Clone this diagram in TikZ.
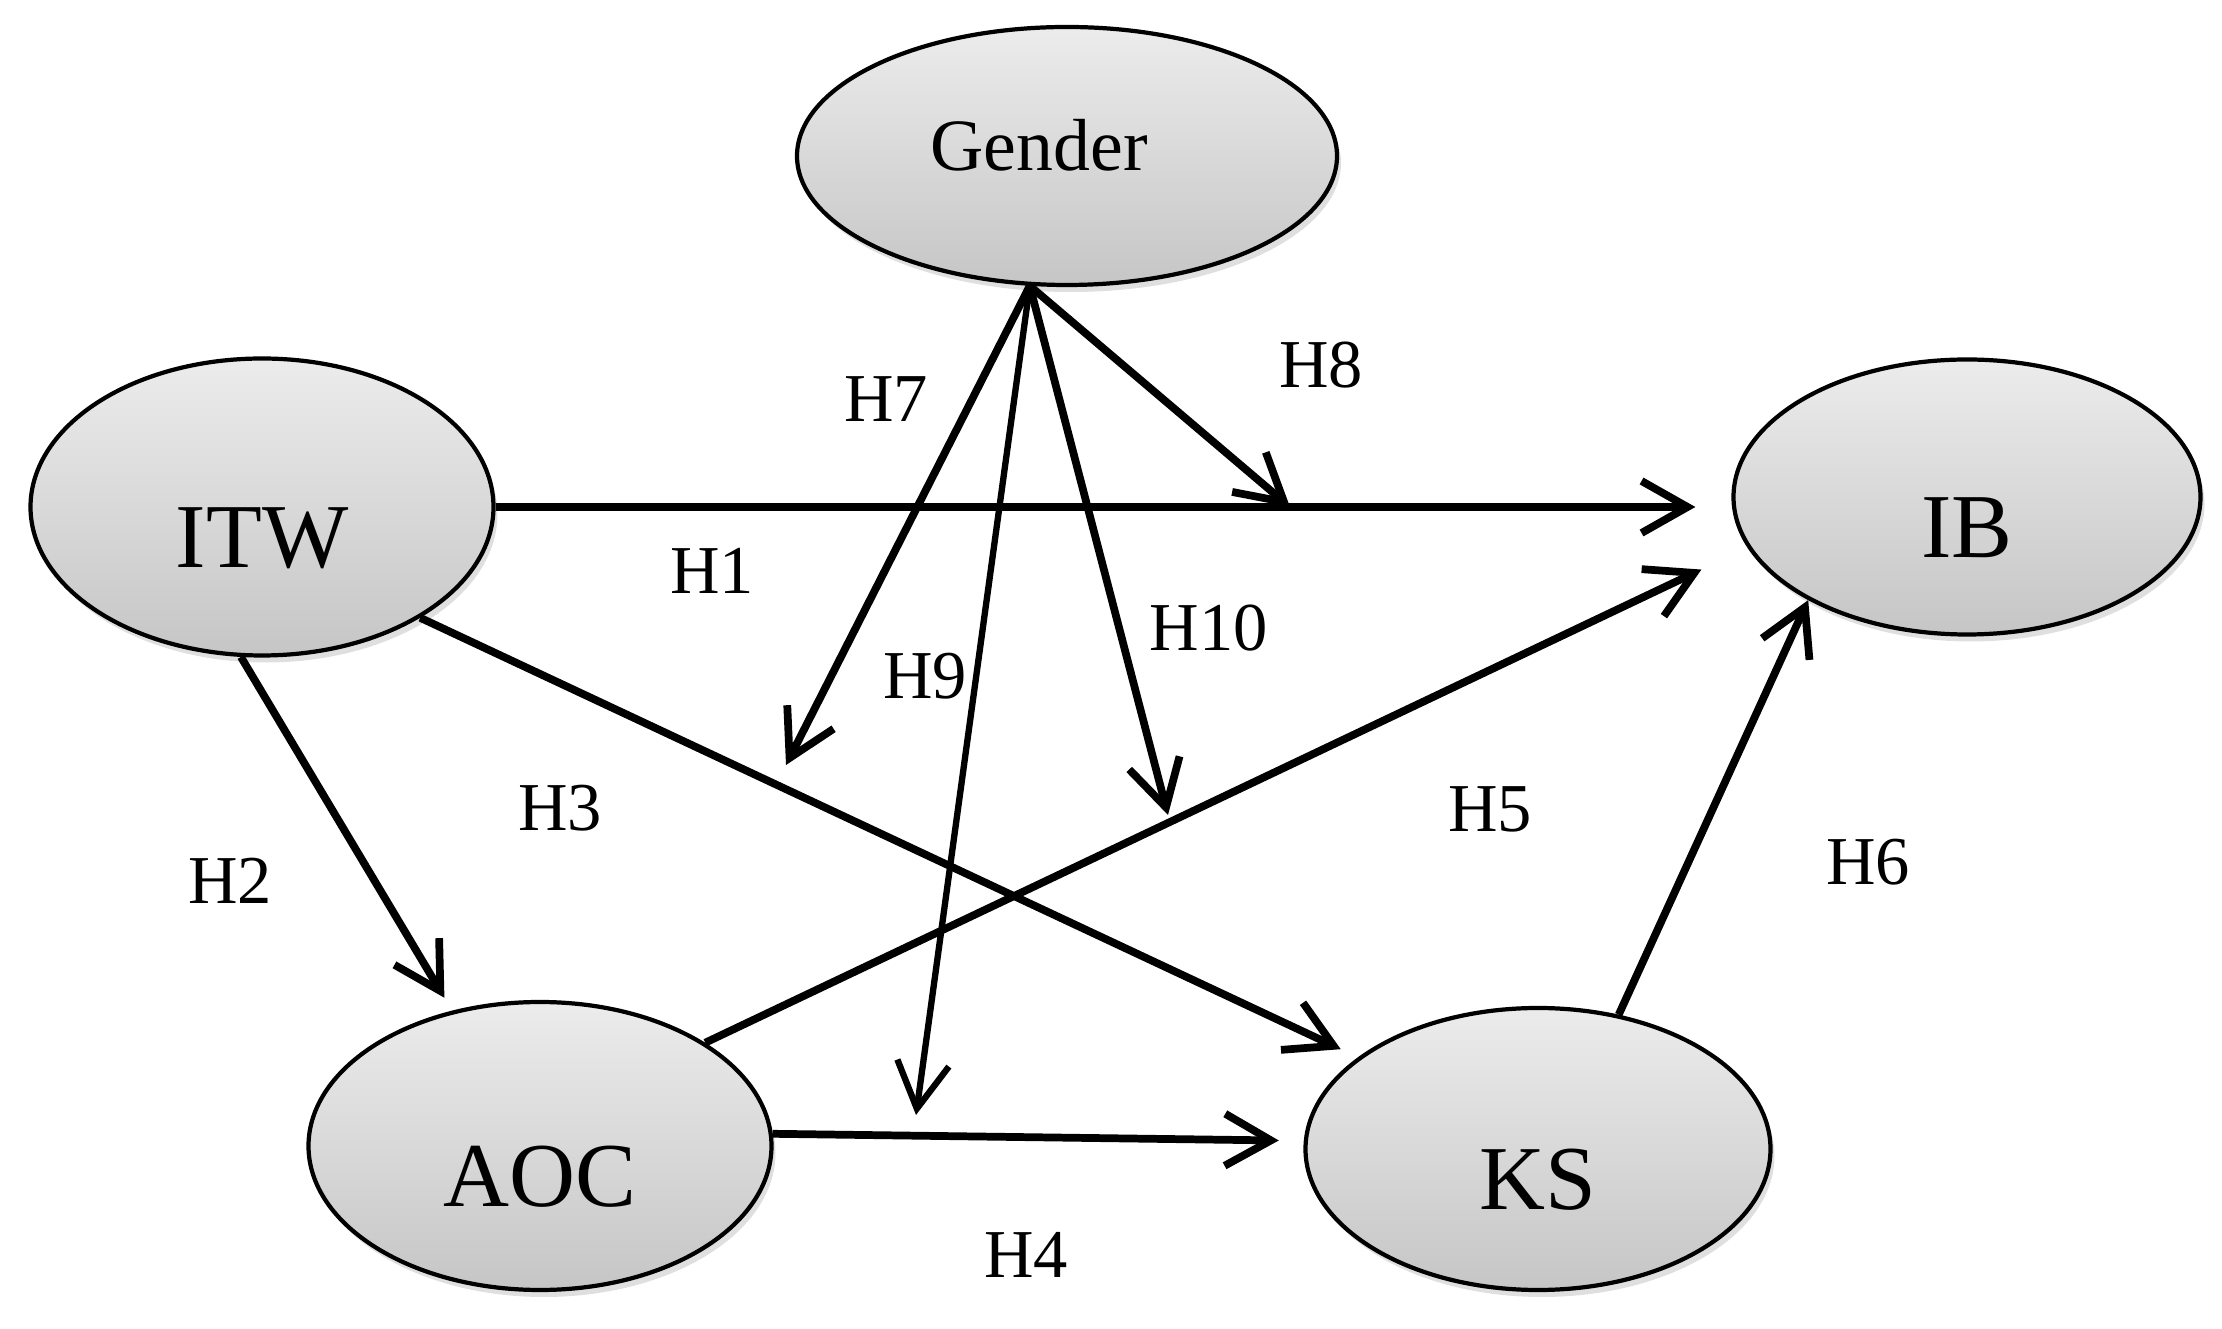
\documentclass[tikz,border=0pt]{standalone}
\usepackage{fontspec}
\setmainfont{Liberation Serif}
\usetikzlibrary{shapes.geometric, arrows.meta, shadows}
\tikzset{
    var/.style={ellipse, draw=black, line width=1.2pt, top color=gray!15, bottom color=gray!45, inner sep=0pt, drop shadow={shadow xshift=0.04cm, shadow yshift=-0.07cm, opacity=0.25}},
    construct/.style={var, font=\fontsize{26}{30}\selectfont, text height=1.21cm, text depth=0pt},
    moderator/.style={var, font=\fontsize{21}{25}\selectfont, text depth=0.22cm},
    hyp/.style={font=\fontsize{19.5}{23}\selectfont, inner sep=0pt},
    arrow/.style={line width=2.2pt, -{Straight Barb[length=4.6mm, width=5.2mm]}},
    thinarrow/.style={arrow, line width=1.8pt}
}

\begin{document}
\begin{tikzpicture}
\useasboundingbox (0,0) rectangle (22.22,-13.29);

% Constructs
\node (gender) [moderator, minimum width=5.40cm, minimum height=2.58cm] at (10.67,-1.56) {Gender\rule{0.56cm}{0pt}};
\node (itw) [construct, minimum width=4.63cm, minimum height=2.97cm] at (2.62,-5.07) {ITW};
\node (ib) [construct, minimum width=4.67cm, minimum height=2.75cm] at (19.67,-4.97) {IB};
\node (aoc) [construct, minimum width=4.63cm, minimum height=2.88cm] at (5.40,-11.46) {AOC};
\node (ks) [construct, minimum width=4.65cm, minimum height=2.82cm] at (15.38,-11.49) {KS};

% Direct paths
\draw [arrow, shorten >=0.36cm] (itw.east) -- (itw.east -| ib.west);
\draw [arrow, shorten >=0.15cm] (itw.262) -- (aoc.123);
\draw [arrow, shorten >=0.19cm] (itw.325) -- (ks.153);
\draw [arrow, shorten >=0.25cm] (aoc.3) -- (ks.178);
\draw [arrow, shorten >=0.51cm] (aoc.32) -- (ib.193);
\draw [arrow] (ks.59) -- (ib.213);

% Moderating effects of gender
\coordinate (m7) at (7.86,-7.65);
\coordinate (m8) at (12.90,-5.07);
\coordinate (m9) at (9.16,-11.15);
\coordinate (m10) at (11.68,-8.15);
\draw [arrow] (gender.254) -- (m7);
\draw [arrow] (gender.254) -- (m8);
\draw [thinarrow] (gender.254) -- (m9);
\draw [arrow] (gender.254) -- (m10);

% Hypothesis labels
\node (h1) [hyp] at (7.12,-5.71) {H1};
\node (h2) [hyp] at (2.30,-8.81) {H2};
\node (h3) [hyp] at (5.60,-8.08) {H3};
\node (h4) [hyp] at (10.26,-12.55) {H4};
\node (h5) [hyp] at (14.90,-8.09) {H5};
\node (h6) [hyp] at (18.68,-8.62) {H6};
\node (h7) [hyp] at (8.86,-3.99) {H7};
\node (h8) [hyp] at (13.21,-3.65) {H8};
\node (h9) [hyp] at (9.25,-6.76) {H9};
\node (h10) [hyp] at (12.09,-6.28) {H10};

\end{tikzpicture}
\end{document}
